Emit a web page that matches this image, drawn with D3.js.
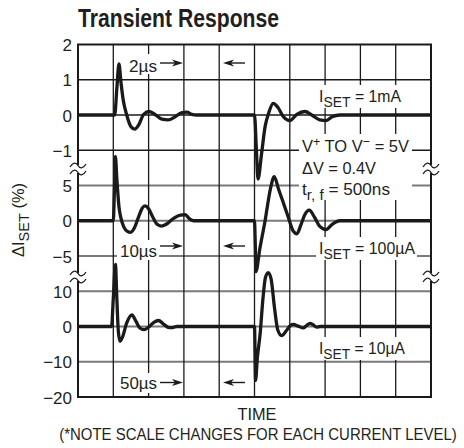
<!DOCTYPE html>
<html>
<head>
<meta charset="utf-8">
<script src="https://cdn.jsdelivr.net/npm/d3@7"></script>
<style>
  body { margin: 0; background: #fff; }
  text { font-family: "Liberation Sans Narrow", "Arial Narrow", "Liberation Sans", sans-serif; fill: #231f20; }
</style>
</head>
<body>
<div id="chart"></div>
<script>
// y tick labels for each current level (scale changes per panel)
var ticks1mA = [2, 1, 0, -1];
var ticks100uA = [5, 0, -5];
var ticks10uA = [10, 0, -10, -20];

// time in grid divisions, deviation in %
var time1mA = [0, 1.04, 1.1, 1.16, 1.22, 1.28, 1.38, 1.5, 1.61, 1.72, 1.86, 2.02, 2.2, 2.38, 2.55, 2.75, 2.93, 3.09, 3.22, 3.37,
               5.0, 5.05, 5.1, 5.2, 5.3, 5.4, 5.53, 5.66, 5.82, 6.0, 6.2, 6.43, 6.62, 6.85, 7.03, 7.2, 7.42, 10];
var dev1mA  = [0, 0, 0.75, 1.45, 0.9, 0.43, 0, -0.33, -0.4, -0.28, 0.02, 0.1, 0, -0.12, -0.14, -0.05, 0.06, 0.08, 0.02, 0,
               0, -0.9, -1.82, -1.1, -0.33, 0.05, 0.33, 0.22, -0.05, -0.16, 0.02, 0.1, 0, -0.14, -0.16, -0.05, 0, 0];

var time100uA = [0, 1.0, 1.03, 1.06, 1.1, 1.16, 1.22, 1.3, 1.4, 1.49, 1.6, 1.72, 1.82, 1.9, 2.0, 2.12, 2.24, 2.36, 2.5, 2.7, 2.9, 3.04, 3.15, 3.27,
                 5.0, 5.02, 5.04, 5.15, 5.3, 5.45, 5.56, 5.68, 5.8, 5.95, 6.1, 6.2, 6.32, 6.42, 6.55, 6.7, 6.85, 7.03, 7.2, 7.42, 10];
var dev100uA  = [0, 0, 4, 9.1, 6, 2, 0.3, -0.9, -1.5, -1.65, -1.0, 0.6, 1.8, 2.1, 1.7, 0.5, -0.5, -0.75, -0.5, 0.3, 0.8, 0.85, 0.3, 0,
                 0, -3, -7.2, -4, 0, 4.5, 6.25, 4.5, 2.8, 0.6, -1.5, -1.85, -0.5, 0.8, 1.5, 0.5, -0.8, -1.25, -0.5, 0, 0];

var time10uA = [0, 0.95, 1.0, 1.06, 1.1, 1.14, 1.19, 1.26, 1.38, 1.53, 1.64, 1.76, 1.87, 2.0, 2.15, 2.28, 2.42, 2.58, 2.68, 2.8,
                5.0, 5.03, 5.08, 5.16, 5.24, 5.31, 5.39, 5.47, 5.57, 5.66, 5.77, 5.9, 6.02, 6.1, 6.24, 6.38, 6.48, 6.57, 6.66, 6.76, 6.86, 10];
var dev10uA  = [0, 0, 8, 17.6, 8, -1, -4.2, -3, 1, 3.3, 1.5, -0.5, -0.9, -0.2, 1.2, 1.7, 0.7, -0.3, -0.3, 0,
                0, -15.3, -9, -2, 8, 13.9, 15.3, 13.5, 5, -1, -2.6, -1.2, 0.3, 0.6, 0.1, -0.4, 0.3, 0.9, 0.5, -0.2, 0, 0];

function zip(t, v) {
  return t.map(function(d, i) { return { t: d, v: v[i] }; });
}

function init() {
  var w = 464, h = 448;
  var left = 78, right = 431, top = 44.5, bottom = 397;

  var svg = d3.select("#chart").append("svg")
              .attr("width", w)
              .attr("height", h);

  var xScale = d3.scaleLinear().domain([0, 10]).range([left, right]);
  var rowScale = d3.scaleLinear().domain([0, 10]).range([top, bottom]);

  // each current level gets its own slice of the grid
  var y1 = d3.scaleLinear().domain([2, -1]).range([rowScale(0), rowScale(3)]);
  var y2 = d3.scaleLinear().domain([5, -5]).range([rowScale(4), rowScale(6)]);
  var y3 = d3.scaleLinear().domain([10, -20]).range([rowScale(7), rowScale(10)]);

  // grid
  svg.append("g").selectAll("line")
    .data(d3.range(1, 10))
    .join("line")
      .attr("x1", left).attr("x2", right)
      .attr("y1", function(d) { return rowScale(d); })
      .attr("y2", function(d) { return rowScale(d); })
      .attr("stroke", function(d) { return d <= 3 ? "#1a1a1a" : "#7a7a7a"; })
      .attr("stroke-width", function(d) { return d <= 3 ? 1.4 : 1.8; });

  svg.append("g").selectAll("line")
    .data(d3.range(1, 10))
    .join("line")
      .attr("x1", function(d) { return xScale(d); })
      .attr("x2", function(d) { return xScale(d); })
      .attr("y1", top).attr("y2", bottom)
      .attr("stroke", "#1a1a1a")
      .attr("stroke-width", 1.3);

  svg.append("rect")
    .attr("x", left).attr("y", top)
    .attr("width", right - left).attr("height", bottom - top)
    .attr("fill", "none")
    .attr("stroke", "#1a1a1a")
    .attr("stroke-width", 2);

  // axes, labels only
  [[y1, ticks1mA], [y2, ticks100uA], [y3, ticks10uA]].forEach(function(p) {
    var ax = svg.append("g")
      .attr("transform", "translate(" + (left - 6) + ",0)")
      .call(d3.axisLeft(p[0]).tickValues(p[1]).tickFormat(d3.format("d")).tickSize(0).tickPadding(0));
    ax.select(".domain").remove();
    ax.selectAll("text")
      .attr("font-size", 17)
      .attr("dy", "0.36em")
      .style("font-family", null);
  });

  // scale break marks
  function breakMark(cx, cy) {
    var g = svg.append("g").attr("transform", "translate(" + cx + "," + cy + ")");
    g.append("rect").attr("x", -8).attr("y", -4).attr("width", 16).attr("height", 8).attr("fill", "#fff");
    [-3.5, 3.5].forEach(function(dy) {
      g.append("path")
        .attr("d", "M-8," + (dy + 1.5) + " C-5," + (dy - 3.5) + " -2," + (dy - 3.5) + " 0," + dy +
                   " S5," + (dy + 3.5) + " 8," + (dy - 1.5))
        .attr("fill", "none")
        .attr("stroke", "#1a1a1a")
        .attr("stroke-width", 1.3);
    });
  }
  breakMark(left, 169);
  breakMark(right, 169);
  breakMark(left, 277);
  breakMark(right, 277);

  // time-span annotations
  function arrowRight(x1, x2, y) {
    svg.append("line").attr("x1", x1).attr("x2", x2 - 6).attr("y1", y).attr("y2", y)
      .attr("stroke", "#1a1a1a").attr("stroke-width", 1.4);
    svg.append("path")
      .attr("d", "M" + x2 + "," + y + " L" + (x2 - 11) + "," + (y - 3.5) + " L" + (x2 - 8) + "," + y + " L" + (x2 - 11) + "," + (y + 3.5) + "Z")
      .attr("fill", "#1a1a1a");
  }
  function arrowLeft(x1, x2, y) {
    svg.append("line").attr("x1", x1 + 6).attr("x2", x2).attr("y1", y).attr("y2", y)
      .attr("stroke", "#1a1a1a").attr("stroke-width", 1.4);
    svg.append("path")
      .attr("d", "M" + x1 + "," + y + " L" + (x1 + 11) + "," + (y - 3.5) + " L" + (x1 + 8) + "," + y + " L" + (x1 + 11) + "," + (y + 3.5) + "Z")
      .attr("fill", "#1a1a1a");
  }
  function whiteBox(x, y, bw, bh) {
    svg.append("rect").attr("x", x).attr("y", y).attr("width", bw).attr("height", bh).attr("fill", "#fff");
  }

  whiteBox(126, 54, 56, 20);
  svg.append("text").attr("x", 129).attr("y", 71.5).attr("font-size", 17)
    .attr("textLength", 28).attr("lengthAdjust", "spacingAndGlyphs").text("2µs");
  arrowRight(160, 183, 63);
  arrowLeft(223, 245, 63);

  whiteBox(117, 240, 42, 20);
  svg.append("text").attr("x", 120).attr("y", 257).attr("font-size", 17)
    .attr("textLength", 37).attr("lengthAdjust", "spacingAndGlyphs").text("10µs");
  arrowRight(160, 183, 246);
  arrowLeft(223, 245, 246);

  whiteBox(117, 373, 42, 20);
  svg.append("text").attr("x", 120).attr("y", 389).attr("font-size", 17)
    .attr("textLength", 37).attr("lengthAdjust", "spacingAndGlyphs").text("50µs");
  arrowRight(160, 183, 382.5);
  arrowLeft(223, 245, 382.5);

  // current level labels
  function isetLabel(x, y, val, len) {
    var t = svg.append("text").attr("x", x).attr("y", y).attr("font-size", 17)
      .attr("textLength", len).attr("lengthAdjust", "spacingAndGlyphs");
    t.append("tspan").text("I");
    t.append("tspan").attr("dy", 5).attr("font-size", 15).text("SET");
    t.append("tspan").attr("dy", -5).text(" = " + val);
  }
  whiteBox(316, 85, 88, 23);
  isetLabel(319, 101.5, "1mA", 82);
  whiteBox(316, 237, 101, 23);
  isetLabel(319, 253.5, "100µA", 96);
  whiteBox(316, 337, 92, 23);
  isetLabel(319, 353.5, "10µA", 86);

  // test conditions block
  whiteBox(299, 134, 113, 66);
  var c1 = svg.append("text").attr("x", 302).attr("y", 151.5).attr("font-size", 17)
    .attr("textLength", 107).attr("lengthAdjust", "spacingAndGlyphs");
  c1.append("tspan").text("V");
  c1.append("tspan").attr("dy", -6).attr("font-size", 13).text("+");
  c1.append("tspan").attr("dy", 6).text(" TO V");
  c1.append("tspan").attr("dy", -6).attr("font-size", 13).text("\u2212");
  c1.append("tspan").attr("dy", 6).text(" = 5V");
  svg.append("text").attr("x", 302).attr("y", 173.5).attr("font-size", 17)
    .attr("textLength", 74).attr("lengthAdjust", "spacingAndGlyphs").text("\u0394V = 0.4V");
  var c3 = svg.append("text").attr("x", 302).attr("y", 195).attr("font-size", 17)
    .attr("textLength", 88).attr("lengthAdjust", "spacingAndGlyphs");
  c3.append("tspan").text("t");
  c3.append("tspan").attr("dy", 5).attr("font-size", 15).text("r, f");
  c3.append("tspan").attr("dy", -5).text(" = 500ns");

  // traces
  var series = [[zip(time1mA, dev1mA), y1], [zip(time100uA, dev100uA), y2], [zip(time10uA, dev10uA), y3]];
  series.forEach(function(s) {
    var line = d3.line()
      .x(function(d) { return xScale(d.t); })
      .y(function(d) { return s[1](d.v); })
      .curve(d3.curveMonotoneX);
    svg.append("path")
      .datum(s[0])
      .attr("d", line)
      .attr("fill", "none")
      .attr("stroke", "#1a1a1a")
      .attr("stroke-width", 3.3)
      .attr("stroke-linejoin", "round");
  });

  // titles
  svg.append("text").attr("x", 78).attr("y", 27)
    .attr("font-size", 26).attr("font-weight", "bold")
    .attr("textLength", 201).attr("lengthAdjust", "spacingAndGlyphs")
    .text("Transient Response");

  svg.append("text").attr("x", 257).attr("y", 420)
    .attr("font-size", 17).attr("text-anchor", "middle")
    .attr("textLength", 39).attr("lengthAdjust", "spacingAndGlyphs")
    .text("TIME");

  // squeezed horizontally so the long note fits the width
  svg.append("text")
    .attr("transform", "translate(258,440) scale(0.88,1)")
    .attr("font-size", 17).attr("text-anchor", "middle")
    .text("(*NOTE SCALE CHANGES FOR EACH CURRENT LEVEL)");

  var yl = svg.append("text")
    .attr("transform", "translate(24,220) rotate(-90)")
    .attr("font-size", 17).attr("text-anchor", "middle")
    .attr("textLength", 74).attr("lengthAdjust", "spacingAndGlyphs");
  yl.append("tspan").text("\u0394I");
  yl.append("tspan").attr("dy", 5).attr("font-size", 15).text("SET");
  yl.append("tspan").attr("dy", -5).text(" (%)");
}

window.onload = init;
</script>
</body>
</html>
